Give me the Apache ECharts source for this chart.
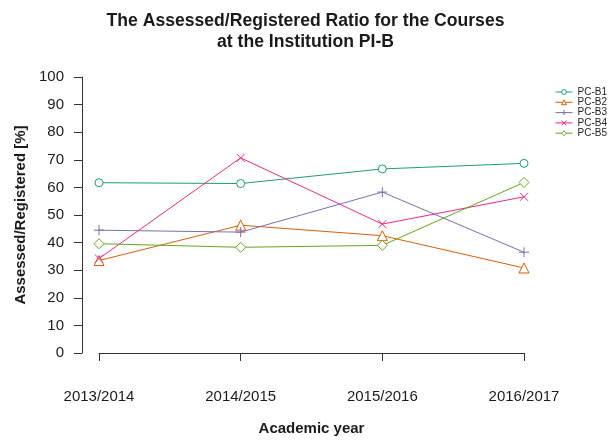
<!DOCTYPE html>
<html>
<head>
<meta charset="utf-8">
<script src="https://cdn.jsdelivr.net/npm/echarts@6/dist/echarts.min.js"></script>
<style>html,body{margin:0;padding:0;background:#fff}#c{width:611px;height:441px}</style>
</head>
<body>
<div id="c"></div>
<script>
var categories = ['2013/2014', '2014/2015', '2015/2016', '2016/2017'];
var seriesNames = ['PC-B1', 'PC-B2', 'PC-B3', 'PC-B4', 'PC-B5'];
var pcB1 = [61.7, 61.4, 66.7, 68.7];
var pcB2 = [33.5, 46.3, 42.5, 30.8];
var pcB3 = [44.5, 43.8, 58.3, 36.5];
var pcB4 = [34.2, 70.7, 46.7, 56.6];
var pcB5 = [39.6, 38.3, 39.0, 61.8];
var yTicks = [0, 10, 20, 30, 40, 50, 60, 70, 80, 90, 100];

var colors = ['#1b9e77', '#d95f02', '#7570b3', '#e7298a', '#66a61e'];
var symbols = [
  'path://M10,5A5,5 0 1 1 0,5A5,5 0 1 1 10,5Z',
  'path://M5,0L10,9L0,9Z',
  'path://M5,0L5,10M0,5L10,5',
  'path://M0,0L10,10M10,0L0,10',
  'path://M5,0L10,5L5,10L0,5Z'
];
var sizes = [8, 10, 10, 8, 10];
var values = [pcB1, pcB2, pcB3, pcB4, pcB5];
var FONT = 'Liberation Sans, Arial, sans-serif';

var series = seriesNames.map(function (n, i) {
  return {
    name: n,
    type: 'line',
    data: values[i],
    clip: false,
    symbol: symbols[i],
    symbolSize: sizes[i],
    showAllSymbol: true,
    lineStyle: { color: colors[i], width: 1 },
    itemStyle: { color: '#fff', borderColor: colors[i], borderWidth: 1 },
    emphasis: { disabled: true }
  };
});

var chart = echarts.init(document.getElementById('c'), null, { renderer: 'canvas' });
chart.setOption({
  animation: false,
  backgroundColor: '#fff',
  color: colors,
  title: {
    text: 'The Assessed/Registered Ratio for the Courses\nat the Institution PI-B',
    left: 'center',
    top: 6,
    textStyle: { fontFamily: FONT, fontSize: 17.6, fontWeight: 'bold', color: '#1a1a1a', lineHeight: 21 }
  },
  legend: {
    orient: 'vertical',
    left: 550,
    top: 82,
    itemWidth: 17,
    itemHeight: 6,
    itemGap: 0.3,
    itemStyle: { borderWidth: 1 },
    lineStyle: { width: 1 },
    textStyle: { fontFamily: FONT, fontSize: 10, color: '#222', lineHeight: 10 },
    data: seriesNames
  },
  grid: { left: 99, right: 87, top: 77, bottom: 84, containLabel: false },
  xAxis: {
    type: 'category',
    data: categories,
    boundaryGap: false,
    offset: 12,
    axisLine: { lineStyle: { color: '#333', width: 1 } },
    axisTick: { length: 8, lineStyle: { color: '#333' } },
    axisLabel: { fontFamily: FONT, fontSize: 15, color: '#1a1a1a', margin: 24 },
    splitLine: { show: false },
    name: 'Academic year',
    nameLocation: 'middle',
    nameGap: 56,
    nameTextStyle: { fontFamily: FONT, fontSize: 15, fontWeight: 'bold', color: '#1a1a1a' }
  },
  yAxis: {
    type: 'value',
    min: yTicks[0],
    max: yTicks[yTicks.length - 1],
    interval: yTicks[1] - yTicks[0],
    offset: 17,
    axisLine: { show: true, lineStyle: { color: '#333', width: 1 } },
    axisTick: { show: true, length: 8, lineStyle: { color: '#333' } },
    axisLabel: { fontFamily: FONT, fontSize: 15, color: '#1a1a1a', margin: 18 },
    splitLine: { show: false },
    name: 'Assessed/Registered [%]',
    nameLocation: 'middle',
    nameGap: 48,
    nameTextStyle: { fontFamily: FONT, fontSize: 15, fontWeight: 'bold', color: '#1a1a1a' }
  },
  series: series
});
</script>
</body>
</html>
